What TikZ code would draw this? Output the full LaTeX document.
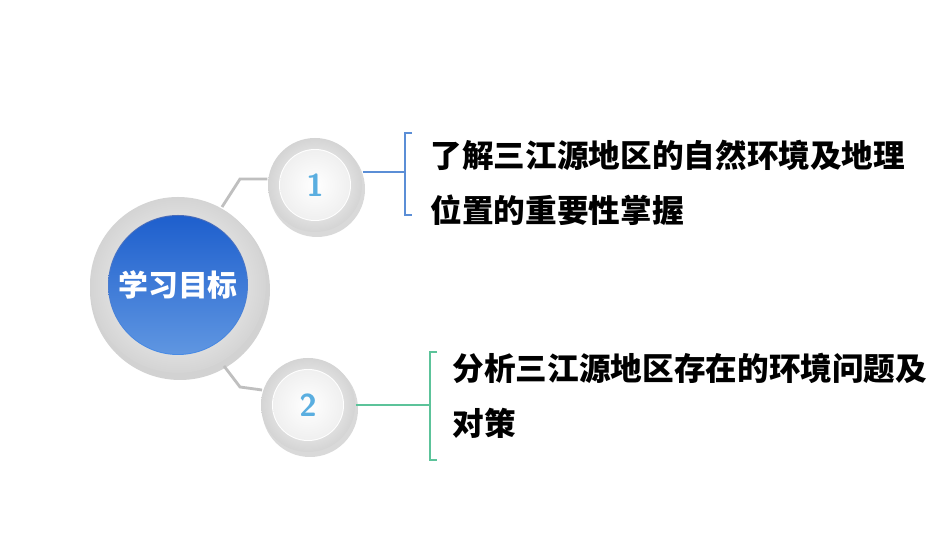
\documentclass[tikz,border=0pt]{standalone}
\usepackage{fontspec}
\newfontfamily\cjk{Noto Sans CJK SC}
\begin{document}
\begin{tikzpicture}[yscale=-1,
  txt/.style={anchor=west,font=\cjk\bfseries\fontsize{9}{11}\selectfont,inner sep=0},
  num/.style={font=\sffamily\bfseries\fontsize{9}{11}\selectfont,text=numblue}]
\definecolor{numblue}{HTML}{5AAEE0}
\definecolor{ringgray}{HTML}{D4D4D4}
\definecolor{lblue}{HTML}{5B8ED6}
\definecolor{lgreen}{HTML}{5CC39A}
\fill[white] (0,0) rectangle (9.5,5.35);
\useasboundingbox (0,0) rectangle (9.5,5.35);
% big circle
\fill[gray!35] (1.8,2.9) circle (0.9);
\shade[inner color=white,outer color=ringgray] (1.78,2.85) circle (0.88);
\shade[top color=blue!70!cyan!60!black!70!white,bottom color=numblue!80!blue] (1.78,2.85) circle (0.7);
\shade[top color={rgb,255:red,30;green,95;blue,205},bottom color={rgb,255:red,95;green,150;blue,225}] (1.78,2.85) circle (0.69);
\node[font=\cjk\bfseries\fontsize{8.5}{10}\selectfont,text=white] (c) at (1.78,2.85) {学习目标};
% small circles
\foreach \n/\x/\y in {1/3.15/1.85, 2/3.08/4.05}{
  \fill[gray!30] (\x+0.02,\y+0.04) circle (0.48);
  \shade[inner color=white,outer color=ringgray] (\x,\y) circle (0.47);
  \fill[white] (\x,\y) circle (0.36);
  \shade[inner color=white,outer color=gray!12] (\x,\y) circle (0.35);
  \node[num,circle,minimum size=0.94cm] (n\n) at (\x,\y) {\n};
}
% connectors
\coordinate (a1) at (2.4,1.79);
\coordinate (a2) at (2.4,3.87);
\draw[gray!50,line width=0.8pt] (2.22,2.07) -- (a1) -- (n1.west|-a1);
\draw[gray!50,line width=0.8pt] (2.24,3.66) -- (a2) -- (2.62,3.9);
% bracket 1
\coordinate (b1) at (4.05,1.72);
\draw[lblue,line width=0.8pt] (n1.east|-b1) -- (b1);
\draw[lblue,line width=0.8pt] (4.12,1.33) -- (4.05,1.33) -- (4.05,2.15) -- (4.12,2.15);
\node[txt] (t1) at (4.3,1.55) {了解三江源地区的自然环境及地理};
\node[txt] (t2) at (4.3,2.1) {位置的重要性掌握};
% bracket 2
\coordinate (b2) at (4.3,4.05);
\draw[lgreen,line width=0.8pt] (n2.east) -- (b2);
\draw[lgreen,line width=0.8pt] (4.37,3.52) -- (4.3,3.52) -- (4.3,4.6) -- (4.37,4.6);
\node[txt] (t3) at (4.52,3.68) {分析三江源地区存在的环境问题及};
\node[txt] (t4) at (4.52,4.23) {对策};
\end{tikzpicture}
\end{document}
